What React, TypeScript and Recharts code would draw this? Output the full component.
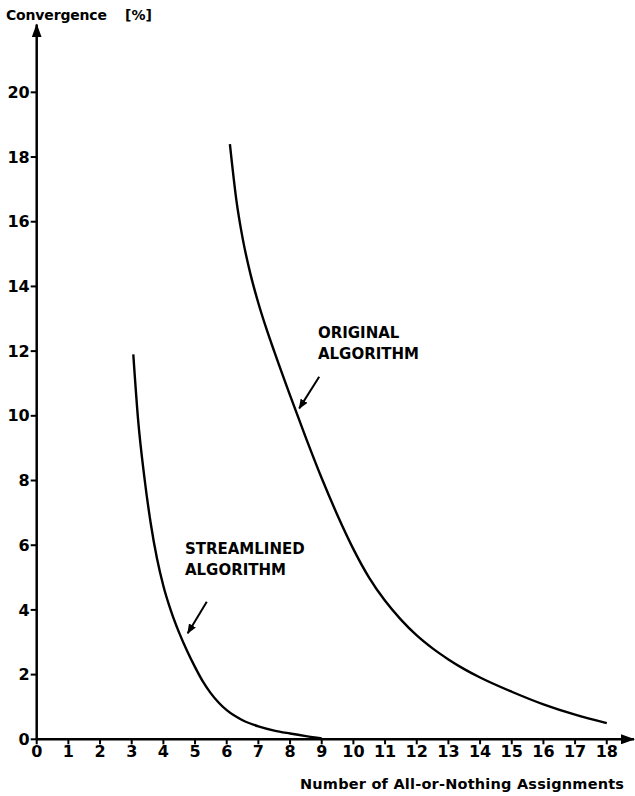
import { LineChart, Line, XAxis, YAxis, ReferenceDot, ReferenceLine } from "recharts";

const FONT = "'DejaVu Sans', sans-serif";

// values (x = assignments, y = convergence %)
const originalX = [6.1, 6.3, 6.5, 6.75, 7.0, 7.25, 7.5, 8.0, 8.5, 9.0, 9.5, 10.0, 10.5, 11.0, 11.5, 12.0, 12.5, 13.0, 13.5, 14.0, 15.0, 16.0, 17.0, 18.0];
const originalY = [18.4, 16.7, 15.5, 14.38, 13.48, 12.7, 11.99, 10.63, 9.32, 8.07, 6.92, 5.88, 4.99, 4.28, 3.7, 3.21, 2.81, 2.47, 2.17, 1.91, 1.47, 1.08, 0.76, 0.5];

const streamlinedX = [3.05, 3.2, 3.4, 3.6, 3.8, 4.0, 4.25, 4.5, 4.75, 5.0, 5.25, 5.5, 5.75, 6.0, 6.5, 7.0, 7.5, 8.0, 8.5, 9.0];
const streamlinedY = [11.9, 9.9, 8.1, 6.68, 5.58, 4.74, 3.94, 3.29, 2.73, 2.23, 1.78, 1.42, 1.13, 0.9, 0.59, 0.4, 0.27, 0.18, 0.1, 0.03];

const xTicks = [0, 1, 2, 3, 4, 5, 6, 7, 8, 9, 10, 11, 12, 13, 14, 15, 16, 17, 18];
const yTicks = [0, 2, 4, 6, 8, 10, 12, 14, 16, 18, 20];

const originalNote = ["ORIGINAL", "ALGORITHM"];
const streamlinedNote = ["STREAMLINED", "ALGORITHM"];
const originalNoteAt = { x: 8.88, y: 12.56 };
const streamlinedNoteAt = { x: 4.68, y: 5.88 };
const originalArrow = [{ x: 8.92, y: 11.21 }, { x: 8.29, y: 10.23 }];
const streamlinedArrow = [{ x: 5.37, y: 4.25 }, { x: 4.77, y: 3.28 }];

const original = originalX.map((x, i) => ({ x, y: originalY[i] }));
const streamlined = streamlinedX.map((x, i) => ({ x, y: streamlinedY[i] }));

function NoteLabel({ viewBox, lines }: any) {
  if (!viewBox) return null;
  return (
    <text x={viewBox.x} y={viewBox.y} fontFamily={FONT} fontWeight="bold" fontSize={15} fill="#000">
      {lines.map((l: string, i: number) => (
        <tspan key={l + i} x={viewBox.x} dy={i === 0 ? "0.36em" : 20.5}>
          {l}
        </tspan>
      ))}
    </text>
  );
}

function YTitle({ viewBox }: any) {
  if (!viewBox) return null;
  const y = viewBox.y - 4;
  return (
    <text y={y} fontFamily={FONT} fontWeight="bold" fontSize={14} fill="#000">
      <tspan x={viewBox.x + 6} textLength={101} lengthAdjust="spacing">Convergence</tspan>
      <tspan x={viewBox.x + 125}>[%]</tspan>
    </text>
  );
}

function XTitle({ viewBox }: any) {
  if (!viewBox) return null;
  return (
    <text
      x={viewBox.x + viewBox.width - 334}
      y={viewBox.y + 50}
      fontFamily={FONT}
      fontWeight="bold"
      fontSize={14.5}
      fill="#000"
      textLength={324}
      lengthAdjust="spacing"
    >
      Number of All-or-Nothing Assignments
    </text>
  );
}

export default function App() {
  const tickStyle = { fill: "#000", fontSize: 16, fontWeight: "bold", fontFamily: FONT };
  return (
    <div style={{ position: "absolute", left: 0, top: 0, background: "#fff" }}>
      <LineChart width={635} height={796} margin={{ top: 24.4, right: 1, bottom: 0, left: 0 }}>
        <defs>
          <marker id="axisArrow" viewBox="0 0 14 10" refX="13" refY="5" markerWidth="14" markerHeight="10" orient="auto-start-reverse" markerUnits="userSpaceOnUse">
            <path d="M0,0 L14,5 L0,10 z" fill="#000" />
          </marker>
          <marker id="noteArrow" viewBox="0 0 10 8" refX="9" refY="4" markerWidth="10" markerHeight="8" orient="auto" markerUnits="userSpaceOnUse">
            <path d="M0,0 L10,4 L0,8 z" fill="#000" />
          </marker>
        </defs>
        <XAxis
          type="number"
          dataKey="x"
          domain={[0, 18.86]}
          allowDataOverflow
          ticks={xTicks}
          interval={0}
          height={56.7}
          tickSize={5}
          tickMargin={1}
          tick={tickStyle}
          tickLine={{ stroke: "#000", strokeWidth: 2 }}
          axisLine={{ stroke: "#000", strokeWidth: 2.5, markerEnd: "url(#axisArrow)" }}
          label={<XTitle />}
        />
        <YAxis
          type="number"
          dataKey="y"
          domain={[0, 22.1]}
          allowDataOverflow
          ticks={yTicks}
          interval={0}
          width={36.7}
          tickSize={6}
          tickMargin={1}
          tick={tickStyle}
          tickLine={{ stroke: "#000", strokeWidth: 2 }}
          axisLine={{ stroke: "#000", strokeWidth: 2.5, markerStart: "url(#axisArrow)" }}
          label={<YTitle />}
        />
        <Line data={original} dataKey="y" type="monotone" stroke="#000" strokeWidth={2.4} dot={false} isAnimationActive={false} />
        <Line data={streamlined} dataKey="y" type="monotone" stroke="#000" strokeWidth={2.4} dot={false} isAnimationActive={false} />
        <ReferenceLine segment={originalArrow} stroke="#000" strokeWidth={2} markerEnd="url(#noteArrow)" />
        <ReferenceLine segment={streamlinedArrow} stroke="#000" strokeWidth={2} markerEnd="url(#noteArrow)" />
        <ReferenceDot x={originalNoteAt.x} y={originalNoteAt.y} r={0} fill="none" stroke="none" label={<NoteLabel lines={originalNote} />} />
        <ReferenceDot x={streamlinedNoteAt.x} y={streamlinedNoteAt.y} r={0} fill="none" stroke="none" label={<NoteLabel lines={streamlinedNote} />} />
      </LineChart>
    </div>
  );
}
